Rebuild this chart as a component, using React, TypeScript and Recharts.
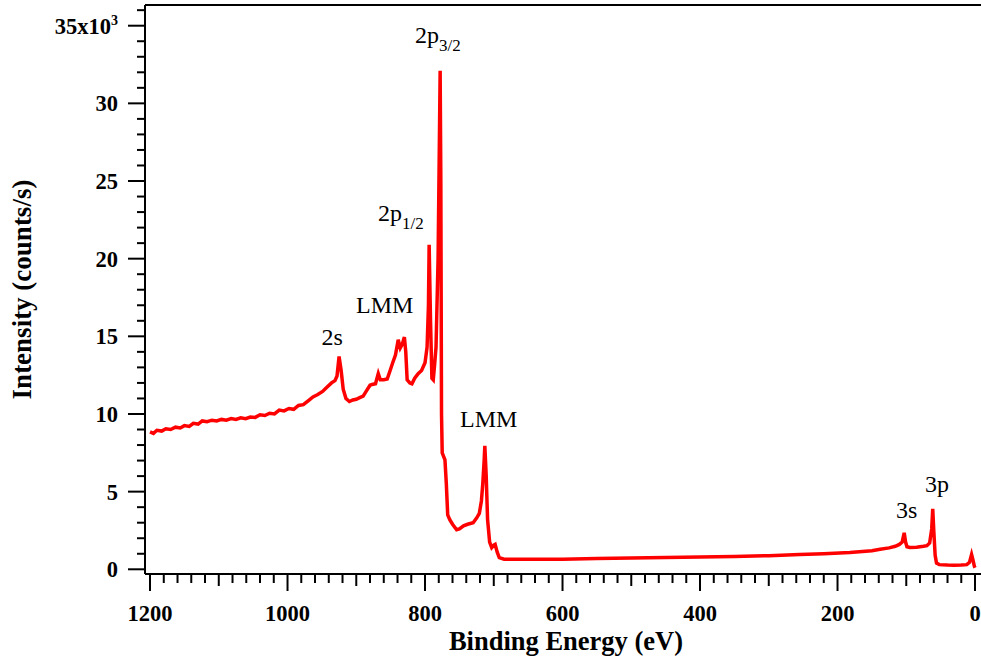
import React from "react";
import { LineChart, Line, XAxis, YAxis, ReferenceDot } from "recharts";

// binding energy (eV), high to low
const energy: number[] = [
  1200, 1195, 1190, 1183, 1177, 1170, 1163, 1156, 1150, 1143, 1137, 1130, 1124, 1117,
  1110, 1103, 1096, 1089, 1082, 1075, 1068, 1061, 1054, 1047, 1040, 1033, 1026, 1019,
  1012, 1005, 998, 991, 984, 977, 970, 963, 956, 949, 942, 936, 931, 928, 925, 922,
  919, 915, 910, 905, 900, 895, 890, 885, 880, 877, 872, 868, 865, 860, 855, 850,
  847, 843, 839, 836, 833, 830, 828, 826, 822, 819, 815, 810, 805, 800, 797, 795,
  794, 792, 790, 788, 786, 784, 781, 779, 778, 777, 776, 775, 771, 769, 767, 764,
  760, 754, 750, 744, 738, 730, 725, 721, 718, 716, 714, 713, 711, 709, 706, 703,
  700, 698, 695, 692, 685, 670, 650, 600, 550, 500, 450, 400, 350, 300, 255, 220,
  182, 150, 138, 125, 116, 110, 106, 103, 101, 99, 95, 85, 75, 70, 66, 63,
  61.5, 60, 58, 56, 52, 40, 30, 20, 12, 8, 5, 3, 1, 0,
];

// intensity (counts/s)
const counts: number[] = [
  8850, 8750, 8950, 8900, 9050, 9000, 9150, 9100, 9250, 9200, 9400, 9350, 9550, 9500,
  9600, 9550, 9650, 9600, 9700, 9650, 9750, 9700, 9800, 9780, 9950, 9900, 10050, 10000,
  10250, 10200, 10350, 10300, 10550, 10600, 10850, 11100, 11250, 11450, 11750, 12000, 12150, 12450, 13700, 12800,
  11600, 11000, 10800, 10900, 10950, 11050, 11150, 11500, 11850, 11900, 11950, 12600, 12200, 12200, 12250, 12900,
  13300, 13800, 14780, 14250, 14500, 14950, 14000, 12200, 12000, 11950, 12300, 12600, 12800, 13300, 14300, 17000,
  20900, 16000, 12300, 12200, 13200, 14300, 20000, 28000, 32100, 25000, 10000, 7500, 7050, 5500, 3500, 3200,
  2900, 2550, 2600, 2800, 2900, 3000, 3300, 3600, 4400, 5500, 7000, 7950, 6000, 3200, 1750, 1400,
  1550, 1600, 1100, 750, 650, 640, 640, 650, 690, 730, 760, 790, 830, 880, 950, 1000,
  1080, 1200, 1290, 1380, 1480, 1600, 1750, 2350, 1750, 1450, 1400, 1420, 1480, 1520, 1700, 2600,
  3900, 2500, 900, 400, 300, 270, 260, 270, 300, 450, 950, 600, 200, 100,
];

const xTicks: number[] = Array.from({ length: 61 }, (_, i) => i * 20);
const yTicks: number[] = Array.from({ length: 37 }, (_, i) => i * 1000);

// peak labels: [text, subscript, energy, intensity]
const peakLabels: [string, string, number, number][] = [
  ["2p", "3/2", 814.5, 33890],
  ["2p", "1/2", 868.4, 22430],
  ["LMM", "", 900.4, 16500],
  ["2s", "", 950.5, 14440],
  ["LMM", "", 749.1, 9180],
  ["3s", "", 114.9, 3300],
  ["3p", "", 72.7, 5000],
];

const data = energy.map((e, i) => ({ energy: e, intensity: counts[i] }));

const serif = "'Liberation Serif', 'Times New Roman', serif";

const XTick = (props: any) => {
  const { x, y, payload } = props;
  const v = payload.value;
  const len = v % 200 === 0 ? 17 : v % 100 === 0 ? 12 : 9;
  return (
    <g>
      <line x1={x} x2={x} y1={y} y2={y + len} stroke="#000" strokeWidth={2} />
      {v % 200 === 0 && (
        <text x={x} y={y + 47} textAnchor="middle" fontFamily={serif} fontWeight="bold" fontSize={22.5} fill="#000">
          {v}
        </text>
      )}
    </g>
  );
};

const YTick = (props: any) => {
  const { x, y, payload } = props;
  const v = payload.value;
  const major = v % 5000 === 0;
  return (
    <g>
      <line x1={x} x2={x - (major ? 17 : 8)} y1={y} y2={y} stroke="#000" strokeWidth={2} />
      {major && (
        <text x={x - 27} y={y} dy="0.35em" textAnchor="end" fontFamily={serif} fontWeight="bold" fontSize={22.5} fill="#000">
          {v === 35000 ? (
            <>
              <tspan>35x10</tspan>
              <tspan dy={-9} fontSize={14}>3</tspan>
            </>
          ) : (
            v / 1000
          )}
        </text>
      )}
    </g>
  );
};

const App: React.FC = () => {
  return (
    <div style={{ position: "absolute", left: 0, top: 0, background: "#fff" }}>
      <LineChart width={981} height={662} data={data} margin={{ top: 0, right: 0, bottom: 0, left: 0 }}>
        <XAxis
          dataKey="energy"
          type="number"
          domain={[-8.7, 1207.3]}
          allowDataOverflow
          reversed
          ticks={xTicks}
          interval={0}
          tickSize={0}
          tickMargin={0}
          tickLine={false}
          tick={<XTick />}
          height={88}
          axisLine={{ stroke: "#000", strokeWidth: 2 }}
          label={{
            content: (p: any) => {
              const vb = p.viewBox;
              return (
                <text
                  x={vb.x + vb.width / 2 + 3}
                  y={650}
                  textAnchor="middle"
                  fontFamily={serif}
                  fontWeight="bold"
                  fontSize={26.5}
                  fill="#000"
                >
                  Binding Energy (eV)
                </text>
              );
            },
          }}
        />
        <XAxis
          xAxisId="top"
          orientation="top"
          dataKey="energy"
          type="number"
          domain={[-8.7, 1207.3]}
          allowDataOverflow
          reversed
          height={5}
          tick={false}
          tickLine={false}
          axisLine={{ stroke: "#000", strokeWidth: 2 }}
        />
        <YAxis
          type="number"
          domain={[-303, 36333]}
          allowDataOverflow
          ticks={yTicks}
          interval={0}
          tickSize={0}
          tickMargin={0}
          tickLine={false}
          tick={<YTick />}
          width={145}
          axisLine={{ stroke: "#000", strokeWidth: 2 }}
          label={{
            content: (p: any) => {
              const vb = p.viewBox;
              const cy = vb.y + vb.height / 2;
              return (
                <text
                  x={22}
                  y={cy}
                  dy="0.35em"
                  transform={`rotate(-90, 22, ${cy})`}
                  textAnchor="middle"
                  fontFamily={serif}
                  fontWeight="bold"
                  fontSize={27}
                  fill="#000"
                >
                  Intensity (counts/s)
                </text>
              );
            },
          }}
        />
        <Line
          type="linear"
          dataKey="intensity"
          stroke="#ff0000"
          strokeWidth={3.5}
          dot={false}
          isAnimationActive={false}
        />
        {peakLabels.map(([txt, sub, e, c], i) => (
          <ReferenceDot
            key={i}
            x={e}
            y={c}
            r={0}
            shape={(p: any) => (
              <text x={p.cx} y={p.cy} fontFamily={serif} fontSize={24} fill="#000">
                {txt}
                {sub && (
                  <tspan dy={8} fontSize={17}>
                    {sub}
                  </tspan>
                )}
              </text>
            )}
          />
        ))}
      </LineChart>
    </div>
  );
};

export default App;
